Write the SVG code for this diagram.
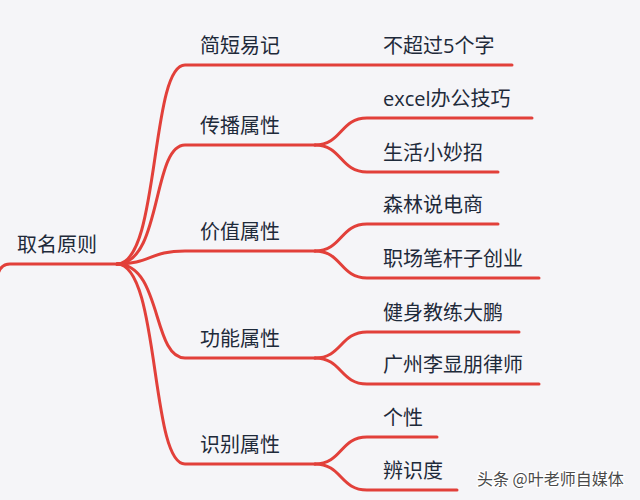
<svg xmlns="http://www.w3.org/2000/svg" width="640" height="500" viewBox="0 0 640 500">
<style>
.t{font-family:"Open Sans","Noto Sans CJK SC",sans-serif;font-size:20px;fill:#1e2a3a}
.c path{fill:none;stroke:#e2403a;stroke-width:3;stroke-linecap:round}
.wm{font-family:"Noto Sans CJK SC",sans-serif;font-size:16px;fill:#4a4a4a;stroke:#ffffff;stroke-width:2.5;paint-order:stroke}
</style>
<rect width="640" height="500" fill="#f5f5f8"/>
<g class="c" id="connectors">
<path d="M-2,274 Q1,264 10,264 L117,264"/>
<path d="M117,264 C160,264 150,65 185,65 L512,65"/>
<path d="M117,264 C162,264 152,145 185,145 L315,145"/>
<path d="M117,264 C150,264 150,251 185,251 L315,251"/>
<path d="M117,264 C162,264 152,358 185,358 L315,358"/>
<path d="M117,264 C160,264 150,464 185,464 L315,464"/>
<path d="M315,145 C342,145 340,118 367,118 L532,118"/>
<path d="M315,145 C342,145 340,172 367,172 L498,172"/>
<path d="M315,251 C342,251 340,224 367,224 L498,224"/>
<path d="M315,251 C342,251 340,278 367,278 L539,278"/>
<path d="M315,358 C342,358 340,332 367,332 L519,332"/>
<path d="M315,358 C342,358 340,384 367,384 L539,384"/>
<path d="M315,464 C342,464 340,437 367,437 L437,437"/>
<path d="M315,464 C342,464 340,490 367,490 L457,490"/>
</g>
<g id="root"><text class="t" x="17" y="252">取名原则</text></g>
<g id="n1"><text class="t" x="200" y="53">简短易记</text></g>
<g id="n2"><text class="t" x="200" y="133">传播属性</text></g>
<g id="n3"><text class="t" x="200" y="239">价值属性</text></g>
<g id="n4"><text class="t" x="200" y="346">功能属性</text></g>
<g id="n5"><text class="t" x="200" y="452">识别属性</text></g>
<g id="n1a"><text class="t" x="383" y="53">不超过5个字</text></g>
<g id="n2a"><text class="t" x="383" y="106">excel办公技巧</text></g>
<g id="n2b"><text class="t" x="383" y="160">生活小妙招</text></g>
<g id="n3a"><text class="t" x="383" y="212">森林说电商</text></g>
<g id="n3b"><text class="t" x="383" y="266">职场笔杆子创业</text></g>
<g id="n4a"><text class="t" x="383" y="320">健身教练大鹏</text></g>
<g id="n4b"><text class="t" x="383" y="372">广州李显朋律师</text></g>
<g id="n5a"><text class="t" x="383" y="425">个性</text></g>
<g id="n5b"><text class="t" x="383" y="478">辨识度</text></g>
<text class="wm" x="477" y="485">头条 @叶老师自媒体</text>
</svg>
